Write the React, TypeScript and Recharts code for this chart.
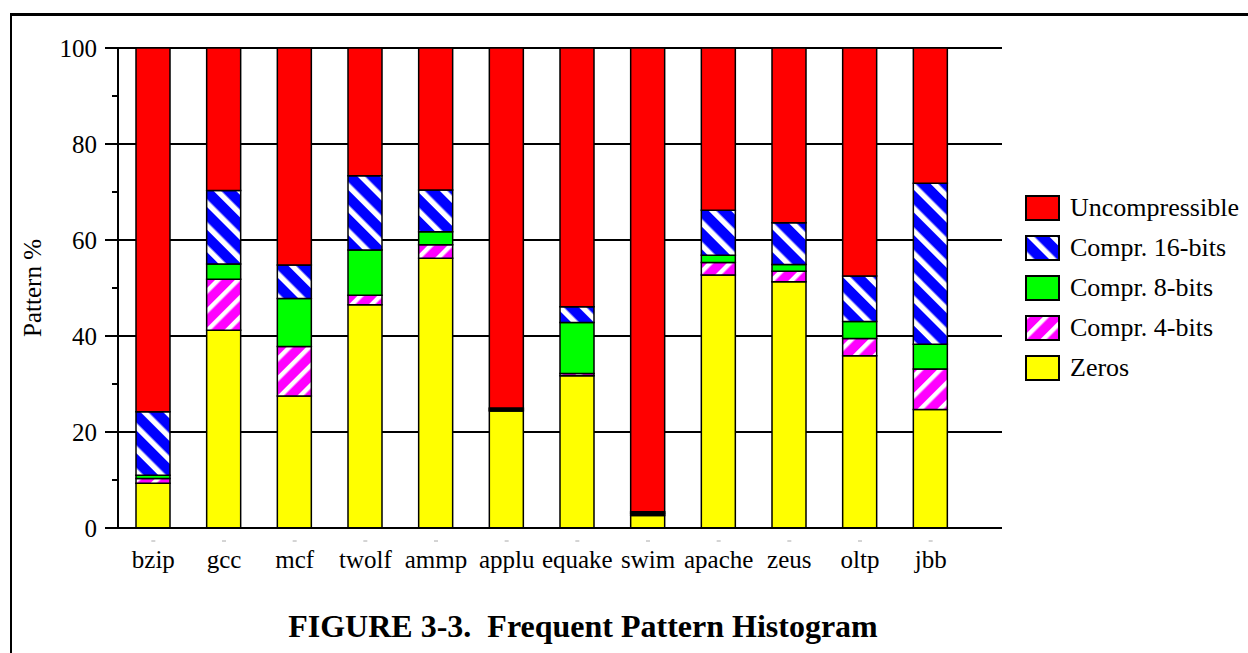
import React from 'react';
import {
  BarChart,
  Bar,
  XAxis,
  YAxis,
  CartesianGrid,
} from 'recharts';

// benchmarks along the x axis
const CATEGORIES = ['bzip', 'gcc', 'mcf', 'twolf', 'ammp', 'applu', 'equake', 'swim', 'apache', 'zeus', 'oltp', 'jbb'];

// share of each pattern class, in percent (stacked bottom to top)
const ZEROS = [9.3, 41.2, 27.5, 46.5, 56.2, 24.4, 31.7, 2.6, 52.7, 51.3, 35.9, 24.7];
const COMPR_4 = [1.0, 10.6, 10.3, 2.0, 2.8, 0.2, 0.5, 0.3, 2.6, 2.2, 3.6, 8.4];
const COMPR_8 = [0.7, 3.2, 10.0, 9.4, 2.7, 0.2, 10.6, 0.2, 1.5, 1.4, 3.5, 5.2];
const COMPR_16 = [13.2, 15.3, 7.0, 15.5, 8.7, 0.2, 3.3, 0.3, 9.4, 8.7, 9.5, 33.5];
const UNCOMPRESSIBLE = [75.8, 29.7, 45.2, 26.6, 29.6, 75.0, 53.9, 96.6, 33.8, 36.4, 47.5, 28.2];

const Y_DOMAIN = [0, 100];
const Y_TICKS = [0, 10, 20, 30, 40, 50, 60, 70, 80, 90, 100];
const GRID_VALUES = [0, 20, 40, 60, 80, 100];

const data = CATEGORIES.map((name, i) => ({
  name,
  zeros: ZEROS[i],
  c4: COMPR_4[i],
  c8: COMPR_8[i],
  c16: COMPR_16[i],
  unc: UNCOMPRESSIBLE[i],
}));

const SERIES = [
  { key: 'zeros', name: 'Zeros', fill: '#ffff00' },
  { key: 'c4', name: 'Compr. 4-bits', fill: 'url(#stripe4)' },
  { key: 'c8', name: 'Compr. 8-bits', fill: '#00ff00' },
  { key: 'c16', name: 'Compr. 16-bits', fill: 'url(#stripe16)' },
  { key: 'unc', name: 'Uncompressible', fill: '#ff0000' },
];

const FONT = '"Liberation Serif", "Times New Roman", serif';

// stripe fills shared by the bars and the legend swatches
const PatternDefs = () => (
  <svg width={0} height={0} style={{ position: 'absolute' }}>
    <defs>
      <pattern id="stripe16" patternUnits="userSpaceOnUse" width={16} height={16} patternTransform="rotate(-45)">
        <rect width={16} height={16} fill="#0000ff" />
        <rect width={5.5} height={16} fill="#ffffff" />
      </pattern>
      <pattern id="stripe4" patternUnits="userSpaceOnUse" width={14} height={14} patternTransform="rotate(45)">
        <rect width={14} height={14} fill="#ff00ff" />
        <rect width={4.5} height={14} fill="#ffffff" />
      </pattern>
    </defs>
  </svg>
);

// long ticks with labels every 20, short ticks in between
const YTick = (props: any) => {
  const { x, y, payload } = props;
  const axisX = x + 21;
  const major = payload.value % 20 === 0;
  return (
    <g>
      <line x1={axisX - (major ? 13 : 6)} x2={axisX} y1={y} y2={y} stroke="#000" strokeWidth={2} />
      {major && (
        <text x={x} y={y} dy="0.35em" textAnchor="end" fontSize={25} fontFamily={FONT} fill="#000">
          {payload.value}
        </text>
      )}
    </g>
  );
};

const XTick = (props: any) => {
  const { x, y, payload } = props;
  return (
    <g>
      <line x1={x - 2} x2={x + 2} y1={y} y2={y} stroke="#aaa" strokeWidth={1} />
      <text x={x} y={y + 27} textAnchor="middle" fontSize={25} fontFamily={FONT} fill="#000">
        {payload.value}
      </text>
    </g>
  );
};

const YLabel = (props: any) => {
  const { viewBox } = props;
  const cx = 32;
  const cy = viewBox.y + viewBox.height / 2;
  return (
    <text x={cx} y={cy} transform={`rotate(-90 ${cx} ${cy})`} textAnchor="middle" dominantBaseline="central"
      fontSize={25} fontFamily={FONT} fill="#000">
      Pattern %
    </text>
  );
};

// horizontal grid only at the labelled values
const gridRows = ({ offset }: any) =>
  GRID_VALUES.map((v) => offset.top + offset.height * (1 - (v - Y_DOMAIN[0]) / (Y_DOMAIN[1] - Y_DOMAIN[0])));

const LegendBox = () => (
  <div style={{ position: 'absolute', left: 1025, top: 195, fontFamily: FONT, fontSize: 26 }}>
    {[...SERIES].reverse().map((s) => (
      <div key={s.key} style={{ display: 'flex', alignItems: 'flex-start', height: 40 }}>
        <svg width={36} height={27} style={{ display: 'block' }}>
          <rect x={1} y={1} width={33} height={24} fill={s.fill} stroke="#000" strokeWidth={2} />
        </svg>
        <span style={{ marginLeft: 9, lineHeight: '26px', whiteSpace: 'nowrap' }}>{s.name}</span>
      </div>
    ))}
  </div>
);

export default function App() {
  return (
    <div style={{ position: 'absolute', left: 0, top: 0, width: 1248, height: 653, background: '#fff', overflow: 'hidden', fontFamily: FONT }}>
      <PatternDefs />
      {/* frame */}
      <div style={{ position: 'absolute', left: 10, top: 13, right: -10, bottom: -10, borderTop: '3px solid #000', borderLeft: '2.5px solid #000' }} />
      <div style={{ position: 'absolute', left: 0, top: 0 }}>
        <BarChart
          width={1248}
          height={653}
          data={data}
          margin={{ top: 48, right: 246, bottom: 65, left: 0 }}
          barSize={34}
        >
          <CartesianGrid
            vertical={false}
            stroke="#000"
            strokeWidth={2}
            horizontalCoordinatesGenerator={gridRows}
          />
          <XAxis
            dataKey="name"
            height={60}
            padding={{ left: 0, right: 36 }}
            axisLine={{ stroke: '#000', strokeWidth: 2 }}
            tickLine={false}
            tickSize={13}
            tickMargin={0}
            interval={0}
            tick={<XTick />}
          />
          <YAxis
            width={118}
            domain={Y_DOMAIN}
            ticks={Y_TICKS}
            interval={0}
            axisLine={{ stroke: '#000', strokeWidth: 2 }}
            tickLine={false}
            tickSize={13}
            tickMargin={8}
            tick={<YTick />}
            label={<YLabel />}
          />
          {SERIES.map((s) => (
            <Bar
              key={s.key}
              dataKey={s.key}
              name={s.name}
              stackId="a"
              fill={s.fill}
              stroke="#000"
              strokeWidth={1.5}
              isAnimationActive={false}
            />
          ))}
        </BarChart>
      </div>
      <LegendBox />
      <div style={{ position: 'absolute', left: 0, top: 610, width: 1166, textAlign: 'center', fontSize: 32, lineHeight: '32px', fontWeight: 'bold', whiteSpace: 'pre' }}>
        {'FIGURE 3-3.  Frequent Pattern Histogram'}
      </div>
    </div>
  );
}
